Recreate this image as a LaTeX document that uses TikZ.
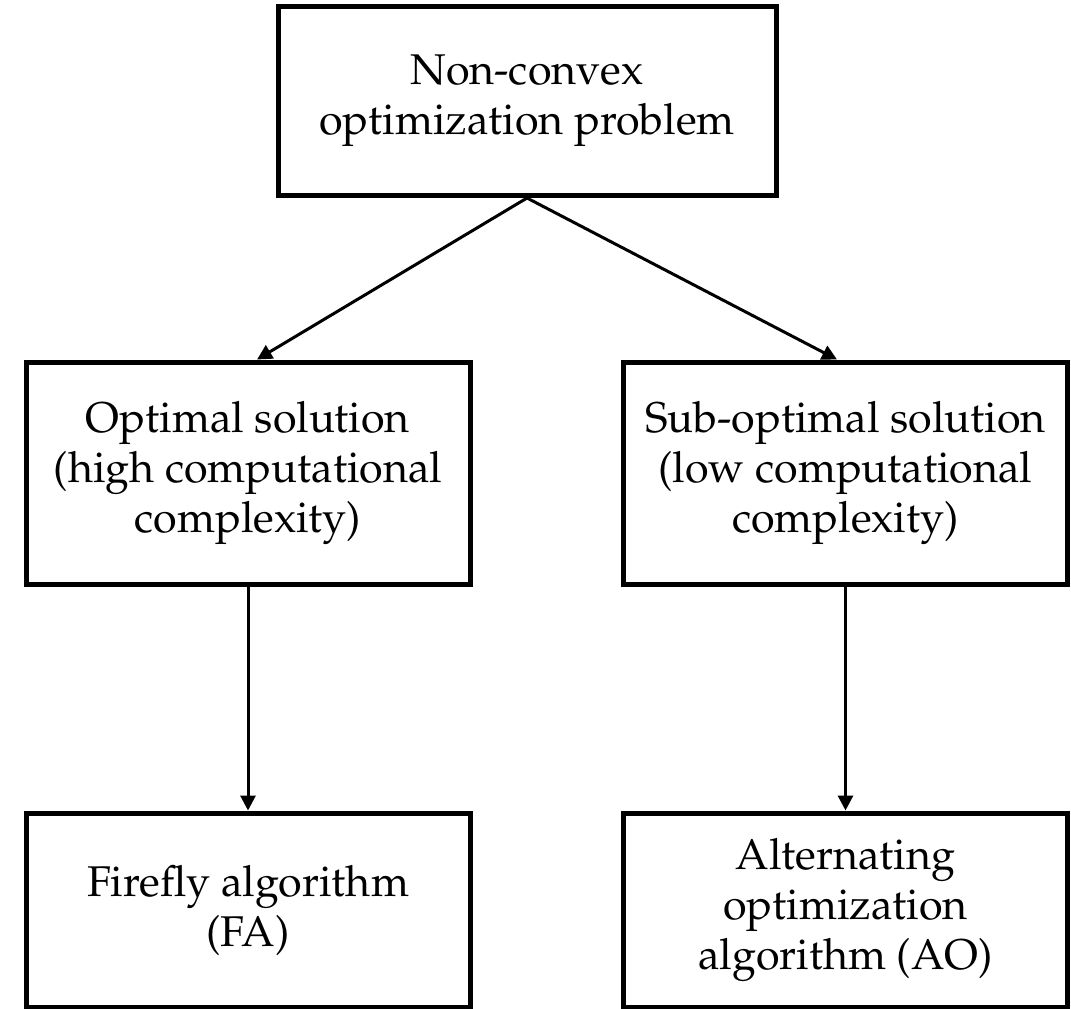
\documentclass[tikz,border=0pt]{standalone}
\usepackage[T1]{fontenc}
\renewcommand{\rmdefault}{ppl}
\usetikzlibrary{arrows.meta}
\begin{document}
\begin{tikzpicture}[x=0.5pt,y=-0.5pt,
  box/.style={draw, line width=2.5pt, align=center, inner sep=0pt,
    font=\fontsize{21.5}{25}\selectfont},
  midbox/.style={box, minimum width=222pt, minimum height=111pt},
  lowbox/.style={box, minimum width=222pt, minimum height=97pt},
  link/.style={line width=1.5pt, -{Triangle[length=7.5pt,width=7.5pt]}}]
\useasboundingbox (0,0) rectangle (1071,1008);

% problem statement
\node[box, minimum width=249pt, minimum height=94.5pt] (prob) at (527,101)
  {Non-convex\\optimization problem};

% two solution routes
\node[midbox] (opt) at (248,473)
  {Optimal solution\\(high computational\\complexity)};
\node[midbox] (subopt) at (845.5,473)
  {Sub-optimal solution\\(low computational\\complexity)};

% algorithms
\node[lowbox] (fa) at (248,910) {Firefly algorithm\\(FA)};
\node[lowbox] (ao) at (845.5,910) {Alternating\\optimization\\algorithm (AO)};

% connectors
\draw[link] (prob.south) -- ([xshift=4.5pt]opt.north);
\draw[link] (prob.south) -- ([xshift=-4.25pt]subopt.north);
\draw[link] (opt.south) -- (fa.north);
\draw[link] (subopt.south) -- (ao.north);
\end{tikzpicture}
\end{document}
